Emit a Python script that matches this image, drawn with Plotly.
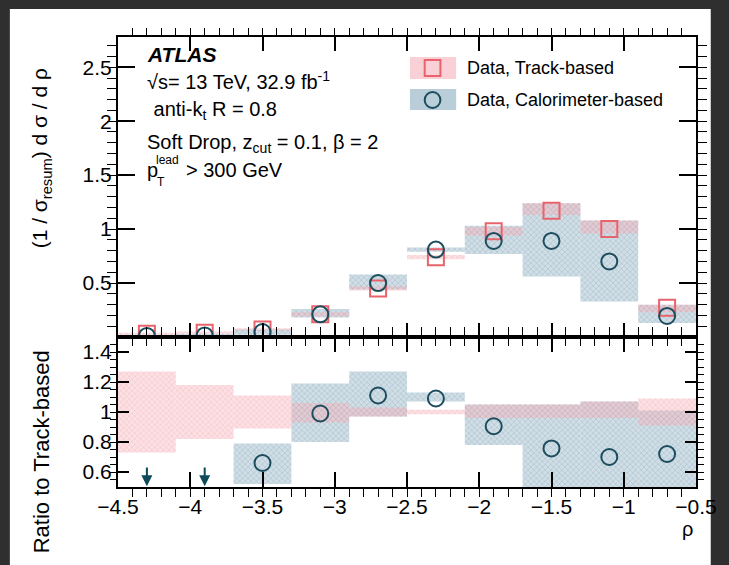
import plotly.graph_objects as go

# ---------------- data ----------------
rho = [-4.3, -3.9, -3.5, -3.1, -2.7, -2.3, -1.9, -1.5, -1.1, -0.7]
bin_width = 0.4

# normalised distribution, track-based
track = [0.03, 0.04, 0.07, 0.21, 0.45, 0.74, 0.98, 1.17, 1.00, 0.27]
track_lo = [0.02, 0.03, 0.06, 0.19, 0.43, 0.72, 0.94, 1.13, 0.96, 0.23]
track_hi = [0.04, 0.05, 0.08, 0.23, 0.47, 0.76, 1.02, 1.24, 1.08, 0.30]

# normalised distribution, calorimeter-based
calo = [0.01, 0.015, 0.046, 0.21, 0.50, 0.81, 0.89, 0.89, 0.70, 0.195]
calo_lo = [0.0, 0.005, 0.02, 0.18, 0.44, 0.79, 0.77, 0.56, 0.33, 0.13]
calo_hi = [0.02, 0.03, 0.07, 0.26, 0.58, 0.83, 1.03, 1.24, 1.08, 0.30]

# ratio to track-based
ratio_track_lo = [0.73, 0.82, 0.89, 0.93, 0.97, 0.985, 0.96, 0.96, 0.96, 0.91]
ratio_track_hi = [1.27, 1.18, 1.11, 1.06, 1.03, 1.015, 1.05, 1.05, 1.07, 1.09]
ratio_calo = [None, None, 0.66, 0.99, 1.11, 1.09, 0.905, 0.757, 0.70, 0.72]
ratio_calo_lo = [None, None, 0.52, 0.80, 0.97, 1.07, 0.78, 0.45, 0.45, 0.45]
ratio_calo_hi = [None, None, 0.79, 1.19, 1.27, 1.13, 1.05, 1.05, 1.07, 1.01]

# ---------------- styling ----------------
PINK_BG = "rgba(246,180,188,0.40)"
PINK_FG = "rgba(232,120,135,0.45)"
BLUE_BG = "rgba(150,182,200,0.45)"
BLUE_FG = "rgba(80,120,145,0.45)"
PINK_LINE = "#e8636c"
BLUE_LINE = "#1c4d5e"
FONT = "Liberation Sans, Arial, sans-serif"

W, H = 729, 565
L, R, T, B = 118, 706, 37, 487


def px(x):
    return (x - L) / (R - L)


def py(y):
    return (B - y) / (B - T)


def band(x, lo, hi, bg, fg, xa, ya):
    xs, base, height = [], [], []
    for xv, l, h in zip(x, lo, hi):
        if l is None or h is None:
            continue
        xs.append(xv)
        base.append(l)
        height.append(h - l)
    return go.Bar(x=xs, y=height, base=base, width=bin_width,
                  marker=dict(color=bg, line=dict(width=0),
                              pattern=dict(shape="x", fgcolor=fg, size=4, solidity=0.35)),
                  xaxis=xa, yaxis=ya, showlegend=False, hoverinfo="skip")


fig = go.Figure()

# upper panel: bands and points
fig.add_trace(band(rho, calo_lo, calo_hi, BLUE_BG, BLUE_FG, "x", "y"))
fig.add_trace(band(rho, track_lo, track_hi, PINK_BG, PINK_FG, "x", "y"))
fig.add_trace(go.Scatter(x=rho, y=track, mode="markers", xaxis="x", yaxis="y",
                         marker=dict(symbol="square-open", size=16,
                                     line=dict(color=PINK_LINE, width=2), color=PINK_LINE),
                         showlegend=False))
fig.add_trace(go.Scatter(x=rho, y=calo, mode="markers", xaxis="x", yaxis="y",
                         marker=dict(symbol="circle-open", size=16,
                                     line=dict(color=BLUE_LINE, width=2), color=BLUE_LINE),
                         showlegend=False))

# lower panel: ratio bands and points
fig.add_trace(band(rho, ratio_calo_lo, ratio_calo_hi, BLUE_BG, BLUE_FG, "x2", "y2"))
fig.add_trace(band(rho, ratio_track_lo, ratio_track_hi, PINK_BG, PINK_FG, "x2", "y2"))
fig.add_trace(go.Scatter(x=rho, y=ratio_calo, mode="markers", xaxis="x2", yaxis="y2",
                         marker=dict(symbol="circle-open", size=16,
                                     line=dict(color=BLUE_LINE, width=2), color=BLUE_LINE),
                         showlegend=False))

# arrows for ratios below the displayed range
ratio_bottom = 0.5
annotations = []
for xv, rv in zip(rho, ratio_calo):
    if rv is None:
        annotations.append(dict(x=xv, y=ratio_bottom + 0.005, ax=xv, ay=0.64,
                                xref="x2", yref="y2", axref="x2", ayref="y2",
                                showarrow=True, arrowhead=2, arrowsize=1.1,
                                arrowwidth=2, arrowcolor="#0d4a5a", text=""))

tick_font = dict(family=FONT, size=21, color="black")
axis_common = dict(showline=True, linecolor="black", linewidth=2, mirror="ticks",
                   ticks="inside", tickcolor="black", tickwidth=1.5,
                   showgrid=False, zeroline=False, tickfont=tick_font)

fig.update_layout(
    width=W, height=H,
    margin=dict(l=L, r=W - R, t=T, b=H - B),
    paper_bgcolor="#2f2f2f",
    plot_bgcolor="white",
    barmode="overlay",
    showlegend=False,
    font=dict(family=FONT, color="black"),
    xaxis=dict(axis_common, domain=[0, 1], anchor="y", range=[-4.5, -0.5],
               matches="x2", showticklabels=False, dtick=0.5, tick0=-4.5, ticklen=14,
               minor=dict(dtick=0.1, ticklen=7, tickcolor="black", tickwidth=1.2)),
    yaxis=dict(axis_common, domain=[1 / 3, 1], anchor="x", range=[0, 2.78],
               tickvals=[0.5, 1, 1.5, 2, 2.5], ticktext=["0.5", "1", "1.5", "2", "2.5"],
               ticklen=17,
               minor=dict(dtick=0.1, tick0=0, ticklen=9, tickcolor="black", tickwidth=1.2)),
    xaxis2=dict(axis_common, domain=[0, 1], anchor="y2", range=[-4.5, -0.5],
                tickvals=[-4.5, -4, -3.5, -3, -2.5, -2, -1.5, -1, -0.5],
                ticktext=["\u22124.5", "\u22124", "\u22123.5", "\u22123", "\u22122.5",
                          "\u22122", "\u22121.5", "\u22121", "\u22120.5"],
                ticklen=15,
                minor=dict(dtick=0.1, tick0=-4.5, ticklen=8, tickcolor="black", tickwidth=1.2)),
    yaxis2=dict(axis_common, domain=[0, 1 / 3], anchor="x2", range=[0.5, 1.5],
                tickvals=[0.6, 0.8, 1, 1.2, 1.4], ticktext=["0.6", "0.8", "1", "1.2", "1.4"],
                ticklen=11,
                minor=dict(dtick=0.05, tick0=0.5, ticklen=6, tickcolor="black", tickwidth=1.2)),
)

shapes = [
    # white page inside the dark frame
    dict(type="rect", xref="paper", yref="paper", layer="below",
         x0=px(8), x1=px(721), y0=py(9), y1=py(H + 5),
         fillcolor="white", line=dict(width=0)),
    # legend swatches
    dict(type="rect", xref="paper", yref="paper",
         x0=px(415), x1=px(462), y0=py(79), y1=py(57),
         fillcolor="rgba(242,170,178,0.55)", line=dict(width=0)),
    dict(type="rect", xref="paper", yref="paper",
         x0=px(430), x1=px(446), y0=py(76), y1=py(60),
         fillcolor="rgba(0,0,0,0)", line=dict(color=PINK_LINE, width=2)),
    dict(type="rect", xref="paper", yref="paper",
         x0=px(415), x1=px(462), y0=py(110), y1=py(89),
         fillcolor="rgba(130,165,185,0.55)", line=dict(width=0)),
    dict(type="circle", xref="paper", yref="paper",
         x0=px(430), x1=px(446), y0=py(108), y1=py(92),
         fillcolor="rgba(0,0,0,0)", line=dict(color=BLUE_LINE, width=2)),
]


def label(text, x, y, size=19, xanchor="left", **kw):
    return dict(text=text, x=px(x), y=py(y), xref="paper", yref="paper",
                xanchor=xanchor, yanchor="middle", showarrow=False,
                font=dict(family=FONT, size=size, color="black"), **kw)


annotations += [
    label("<b><i>ATLAS</i></b>", 145, 54, size=21),
    label("\u221As= 13 TeV, 32.9 fb<sup>-1</sup>", 145, 81, size=20),
    label(" anti-k<sub>t</sub> R = 0.8", 146, 110, size=20),
    label("Soft Drop, z<sub>cut</sub> = 0.1, \u03b2 = 2", 145, 143, size=20),
    label("p", 145, 170, size=20),
    label("lead", 155, 160, size=12),
    label("T", 156, 182, size=12),
    label("> 300 GeV", 185, 170, size=20),
    label("Data, Track-based", 471, 68, size=18),
    label("Data, Calorimeter-based", 471, 100, size=18),
    label("\u03c1", 697, 529, size=20, xanchor="center"),
    label("(1 / \u03c3<sub>resum</sub>) d \u03c3 / d \u03c1", 40, 158, size=21,
          xanchor="center", textangle=-90),
    label("Ratio to Track-based", 40, 452, size=22, xanchor="center", textangle=-90),
]

fig.update_layout(shapes=shapes, annotations=annotations)

fig.write_html("out.html")
